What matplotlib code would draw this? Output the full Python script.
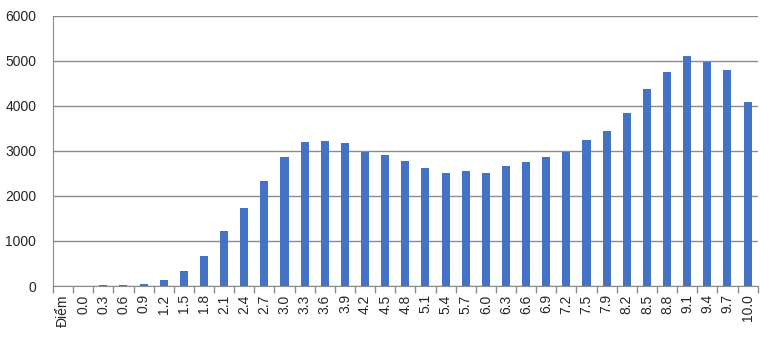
import matplotlib
matplotlib.use("Agg")
import matplotlib.pyplot as plt
import numpy as np

# score bins and number of candidates per bin
labels = ["Điểm", "0.0", "0.3", "0.6", "0.9", "1.2", "1.5", "1.8", "2.1", "2.4",
          "2.7", "3.0", "3.3", "3.6", "3.9", "4.2", "4.5", "4.8", "5.1", "5.4",
          "5.7", "6.0", "6.3", "6.6", "6.9", "7.2", "7.5", "7.9", "8.2", "8.5",
          "8.8", "9.1", "9.4", "9.7", "10.0"]
counts = [0, 2, 22, 22, 45, 133, 333, 667, 1222, 1733,
          2333, 2867, 3200, 3222, 3178, 2985, 2911, 2778, 2622, 2511,
          2556, 2511, 2667, 2756, 2867, 2978, 3244, 3444, 3844, 4378,
          4756, 5111, 4985, 4800, 4089]
yticks = [0, 1000, 2000, 3000, 4000, 5000, 6000]

plt.rcParams['font.family'] = ['Liberation Sans', 'DejaVu Sans']

fig = plt.figure(figsize=(7.71, 3.44), dpi=100)
ax = fig.add_axes([0.0687, 0.1686, 0.914, 0.785])

x = np.arange(len(labels))
ax.bar(x, counts, width=0.4, color='#4472C4', zorder=3)

grid_col = '#8c8c8c'
ax.set_xlim(-0.5, len(labels) - 0.5)
ax.set_ylim(0, 6000)
ax.set_yticks(yticks)
ax.yaxis.grid(True, color=grid_col, linewidth=1, zorder=0)
ax.tick_params(axis='y', length=0, pad=12, labelsize=10, labelcolor='#262626')

ax.set_xticks(x)
ax.set_xticklabels(labels, rotation=90, fontsize=10, color='#262626')
ax.set_xticks(np.arange(-0.5, len(labels), 1), minor=True)
ax.tick_params(axis='x', which='major', length=0, pad=6)
ax.tick_params(axis='x', which='minor', length=5, color=grid_col, width=1)

for s in ['top', 'right']:
    ax.spines[s].set_visible(False)
ax.spines['left'].set_color(grid_col)
ax.spines['bottom'].set_color(grid_col)

fig.savefig("out.png", dpi=100)
